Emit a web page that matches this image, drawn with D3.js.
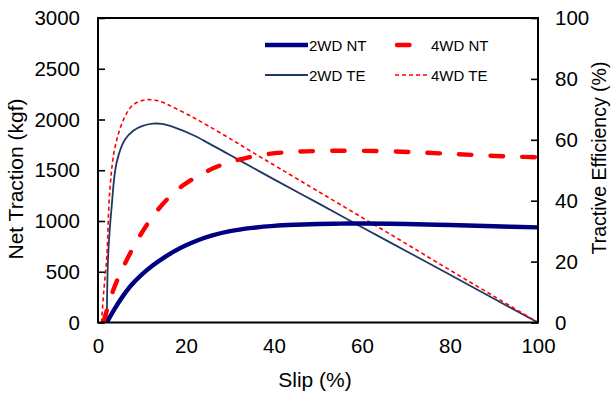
<!DOCTYPE html>
<html>
<head>
<meta charset="utf-8">
<script src="https://cdn.jsdelivr.net/npm/d3@7"></script>
<style>
  html, body { margin: 0; padding: 0; background: #fff; }
  svg { display: block; font-family: "Liberation Sans", Arial, sans-serif; }
</style>
</head>
<body>
<svg id="chart" width="611" height="393"></svg>
<script>
// ---- Data ----
const xTicks = [0, 20, 40, 60, 80, 100];
const leftTicks = [0, 500, 1000, 1500, 2000, 2500, 3000];
const rightTicks = [0, 20, 40, 60, 80, 100];

// Net traction, kgf: [slip %, value]
const nt2wd = [[2,0],[3.5,115],[5.5,250],[7.5,365],[10,475],[12.5,565],[15,640],[17.5,705],[20,760],[23,815],[26,858],[30,900],[35,932],[40,952],[45,963],[50,970],[55,974],[60,975],[70,970],[80,960],[90,948],[100,937]];
const nt4wd = [[1.2,0],[3.5,322],[5.8,551],[9.2,831],[13,1077],[17.1,1274],[20.5,1385],[23.9,1471],[27,1535],[30.4,1585],[34,1625],[38.7,1660],[45,1683],[55,1692],[65,1688],[73.6,1674],[81,1660],[88,1645],[95,1634],[100,1627]];
// Tractive efficiency, %: [slip %, value]
const te2wd = [[2,0],[2.3,21.7],[3.1,38],[4.2,52.3],[6.1,60],[8,63],[10,64.5],[12.5,65.3],[14.5,65.2],[17.5,64],[21.7,61.5],[25,59],[30,55],[35,51],[40,47],[50,39.2],[60,31.3],[70,23.5],[80,15.7],[90,7.8],[100,0]];
const te4wd = [[0.8,0],[1.3,10],[2,21.7],[2.7,43.6],[3.9,57.8],[6.1,67.6],[8,71.5],[10.7,73.1],[13,73],[15.2,72],[17.5,70.4],[21.7,67.3],[25,64.6],[30,60.4],[35,56],[41.4,50.5],[50,43.1],[60,34.5],[70,25.9],[80,17.2],[90,8.6],[100,0]];

const legendLabels = ["2WD NT", "4WD NT", "2WD TE", "4WD TE"];

// ---- Layout ----
const svg = d3.select("#chart");
const plot = { left: 98, right: 538, top: 18, bottom: 322.5 };

const x = d3.scaleLinear().domain([0, 100]).range([plot.left, plot.right]);
const yL = d3.scaleLinear().domain([0, 3000]).range([plot.bottom, plot.top]);
const yR = d3.scaleLinear().domain([0, 100]).range([plot.bottom, plot.top]);

const navy = "#000080";
const navyThin = "#1f3864";
const red = "#ff0000";

const styles = [
  { data: nt2wd, y: yL, color: navy, width: 4.4, dash: null },
  { data: nt4wd, y: yL, color: red, width: 4.4, dash: "12.5,19.2", cap: "round" },
  { data: te2wd, y: yR, color: navyThin, width: 1.8, dash: null },
  { data: te4wd, y: yR, color: red, width: 1.6, dash: "4,3" }
];

svg.append("clipPath").attr("id", "clip")
  .append("rect").attr("x", plot.left).attr("y", plot.top - 2)
  .attr("width", plot.right - plot.left + 1).attr("height", plot.bottom - plot.top + 2);

const g = svg.append("g").attr("clip-path", "url(#clip)");

[2, 3, 0, 1].forEach(i => {
  const s = styles[i];
  const line = d3.line().x(d => x(d[0])).y(d => s.y(d[1])).curve(d3.curveCatmullRom.alpha(0.5));
  g.append("path")
    .attr("d", line(s.data))
    .attr("fill", "none")
    .attr("stroke", s.color)
    .attr("stroke-width", s.width)
    .attr("stroke-dasharray", s.dash)
    .attr("stroke-linecap", s.cap || "butt")
    .attr("stroke-linejoin", "round");
});

// ---- Axes ----
const fmt = d3.format("d");
const axL = d3.axisLeft(yL).tickValues(leftTicks).tickFormat(fmt).tickSizeInner(-7).tickSizeOuter(0).tickPadding(18);
const axR = d3.axisRight(yR).tickValues(rightTicks).tickFormat(fmt).tickSizeInner(-7).tickSizeOuter(0).tickPadding(17);
const axB = d3.axisBottom(x).tickValues(xTicks).tickFormat(fmt).tickSize(0).tickPadding(16);

function styleAxis(sel) {
  sel.select(".domain").remove();
  sel.selectAll(".tick line").attr("stroke", "#000").attr("stroke-width", 1.6);
  sel.selectAll(".tick text").attr("font-size", 20.5).attr("fill", "#000")
    .attr("font-family", "'Liberation Sans', Arial, sans-serif");
}
svg.append("g").attr("transform", `translate(${plot.left},0)`).call(axL).call(styleAxis);
svg.append("g").attr("transform", `translate(${plot.right},0)`).call(axR).call(styleAxis);
svg.append("g").attr("transform", `translate(0,${plot.bottom})`).call(axB).call(styleAxis);

svg.append("rect")
  .attr("x", plot.left).attr("y", plot.top)
  .attr("width", plot.right - plot.left).attr("height", plot.bottom - plot.top)
  .attr("fill", "none").attr("stroke", "#000").attr("stroke-width", 2);

// ---- Axis titles ----
svg.append("text")
  .attr("transform", `translate(23,179) rotate(-90)`)
  .attr("text-anchor", "middle")
  .attr("font-size", 21).attr("fill", "#000")
  .text("Net Traction (kgf)");

svg.append("text")
  .attr("transform", `translate(606,158) rotate(-90)`)
  .attr("text-anchor", "middle")
  .attr("font-size", 19.5).attr("fill", "#000")
  .text("Tractive Efficiency (%)");

svg.append("text")
  .attr("x", 315).attr("y", 387)
  .attr("text-anchor", "middle")
  .attr("font-size", 21).attr("fill", "#000")
  .text("Slip (%)");

// ---- Legend ----
const legPos = [
  { x1: 265, x2: 308, y: 45 },
  { x1: 395, x2: 430, y: 45 },
  { x1: 265, x2: 308, y: 75 },
  { x1: 395, x2: 430, y: 75 }
];
legendLabels.forEach((lab, i) => {
  const s = styles[i], p = legPos[i];
  svg.append("line")
    .attr("x1", p.x1 + (s.cap ? 2 : 0)).attr("x2", p.x2 - (s.cap ? 2 : 0))
    .attr("y1", p.y).attr("y2", p.y)
    .attr("stroke", s.color).attr("stroke-width", s.width)
    .attr("stroke-dasharray", s.dash).attr("stroke-linecap", s.cap || "butt");
  svg.append("text")
    .attr("x", p.x2 + 1).attr("y", p.y + 5.5)
    .attr("font-size", 15).attr("fill", "#000")
    .text(lab);
});
</script>
</body>
</html>
